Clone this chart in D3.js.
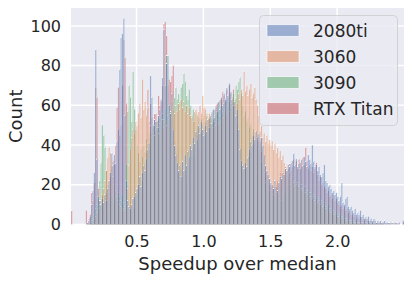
<!DOCTYPE html>
<html><head><meta charset="utf-8">
<script src="https://cdn.jsdelivr.net/npm/d3@7"></script>
<style>
body{margin:0;background:#fff}
svg{display:block}
text{font-family:"DejaVu Sans",sans-serif;fill:#262626}
</style>
</head><body><svg id="c" width="412" height="281"></svg>
<script>
const binStart = 0.01, binWidth = 0.01;
const categories = ["2080ti", "3060", "3090", "RTX Titan"];
const colors = ["#4c72b0", "#dd8452", "#55a868", "#c44e52"];
const yTicks = [0, 20, 40, 60, 80, 100];
const xTicks = [0.5, 1.0, 1.5, 2.0];

const counts2080ti = [
0,0,0,0,0,0,0,0,0,0,
0,0,1,2,4,10,17,26,88,33,
14,12,10,13,11,15,12,18,22,26,
36,30,35,31,42,48,78,94,96,104,
55,22,12,9,8,10,13,14,16,18,
20,24,19,26,30,27,33,38,41,75,
64,50,53,52,49,55,58,63,74,98,
70,81,85,60,56,66,48,40,35,31,
27,30,24,32,27,35,30,37,34,40,
38,44,41,47,43,50,46,52,48,45,
50,47,53,49,55,51,58,54,60,57,
62,58,64,60,66,63,69,65,71,67,
63,60,62,55,58,48,38,32,30,28,
31,29,34,38,42,40,45,43,47,44,
46,42,44,40,35,30,27,25,23,21,
20,18,22,19,17,21,24,23,26,25,
28,27,30,29,31,32,36,30,33,29,
31,28,33,30,34,32,29,35,33,31,
40,32,29,30,27,29,25,24,26,30,
22,21,19,20,18,16,17,15,16,14,
12,14,21,11,10,13,14,9,8,9,
7,6,8,5,6,5,7,4,5,3,
4,3,4,2,3,2,3,2,1,2,
1,2,1,1,2,1,1,0,1,1,
1,0,1,1,0,1,0,0,2];

const counts3060 = [
0,0,0,0,0,0,0,0,0,0,
0,0,0,0,0,1,2,3,4,6,
8,10,12,15,18,22,27,34,39,36,
30,24,20,17,14,12,10,9,8,7,
8,10,18,30,38,44,48,46,52,50,
56,61,54,73,58,62,55,59,52,50,
47,49,45,48,50,46,51,48,53,49,
52,50,55,53,57,54,58,56,60,57,
61,58,63,59,62,57,60,56,59,55,
54,52,57,58,55,57,60,56,65,59,
58,55,53,56,51,54,49,52,50,53,
51,55,52,57,54,58,56,60,57,61,
59,62,60,64,61,66,63,68,65,77,
67,70,65,68,71,64,66,69,63,60,
55,47,50,44,46,42,45,41,43,40,
42,38,41,36,39,34,37,33,35,31,
29,27,25,26,23,24,21,22,20,21,
19,20,18,17,19,16,17,15,16,14,
13,14,12,13,11,12,10,11,9,10,
8,9,7,8,6,7,5,6,5,4,
4,3,4,3,2,3,2,2,1,2,
1,2,1,1,0,1,1,0,1,0,
1,0,0,1,0,0,1,0,0,0,
0,1,0,0,0,0,0,0,1,0,
0,0,1,0,0,0,0,0,0];

const counts3090 = [
0,0,0,0,0,0,0,0,0,0,
0,0,0,0,1,2,3,5,8,10,
13,22,31,50,45,39,27,20,16,14,
12,14,11,15,13,16,14,12,15,11,
9,30,57,70,64,52,77,58,48,40,
36,32,38,34,40,37,43,41,46,44,
48,45,50,47,52,49,54,51,56,53,
58,85,55,60,57,62,59,64,69,63,
66,62,69,71,76,72,65,63,68,60,
55,58,52,56,50,54,49,53,51,55,
52,56,50,54,54,57,53,55,59,56,
62,58,60,56,61,57,63,59,62,60,
64,66,63,70,68,72,74,66,60,55,
57,52,54,49,51,46,48,43,45,40,
38,35,32,28,25,21,18,15,17,14,
13,15,12,14,16,13,15,12,14,16,
17,19,16,20,18,21,19,22,17,20,
19,17,20,18,16,19,15,17,14,16,
13,15,12,14,11,13,10,12,9,11,
9,8,10,7,8,6,7,5,6,5,
4,5,3,4,3,2,3,2,2,1,
2,1,1,2,1,1,0,1,1,0,
1,0,1,0,0,1,0,0,0,1,
0,0,1,0,0,0,0,1,0,0,
0,0,0,0,0,0,0,0,0];

const countsRTXTitan = [
7,0,0,0,0,0,0,0,0,0,
0,7,1,3,5,16,12,21,69,64,
18,12,10,14,11,13,16,12,20,24,
28,32,30,40,59,69,45,50,70,93,
84,61,20,10,7,9,12,8,11,15,
18,20,23,22,27,32,36,68,44,61,
54,50,56,56,52,65,60,62,70,101,
102,95,70,73,72,75,80,42,37,30,
26,22,28,24,20,27,23,30,32,35,
36,34,40,38,45,42,39,46,44,48,
45,50,47,53,49,56,52,58,55,61,
57,63,63,67,65,62,68,64,70,66,
61,68,57,59,50,44,35,30,27,31,
28,33,30,36,40,37,44,41,46,42,
43,40,37,33,29,26,24,22,20,19,
17,19,16,20,22,21,26,24,27,25,
30,26,28,31,27,29,33,30,32,28,
33,31,29,34,30,39,32,28,30,27,
29,26,28,31,25,22,24,20,21,19,
18,16,17,14,15,13,15,12,13,11,
10,9,10,8,9,7,8,6,7,5,
5,4,5,3,4,3,4,2,3,2,
3,2,2,1,2,1,2,1,1,1,
1,0,1,1,0,1,0,1,0,0,
0,1,0,0,1,0,0,0,1];

const seriesCounts = [counts2080ti, counts3060, counts3090, countsRTXTitan];

const W = 412, H = 281;
const m = {left: 71, right: 8, top: 8, bottom: 56.5};
const svg = d3.select("#c");
const nBins = counts2080ti.length;
const x = d3.scaleLinear().domain([binStart, binStart + nBins * binWidth]).range([m.left, W - m.right]);
const y = d3.scaleLinear().domain([0, 109]).range([H - m.bottom, m.top]);

svg.append("rect").attr("x", m.left).attr("y", m.top)
  .attr("width", W - m.left - m.right).attr("height", H - m.top - m.bottom)
  .attr("fill", "#eaeaf2");

const g = svg.append("g");
g.selectAll("line.h").data(yTicks).join("line")
  .attr("x1", m.left).attr("x2", W - m.right)
  .attr("y1", d => y(d)).attr("y2", d => y(d))
  .attr("stroke", "#fff").attr("stroke-width", 1.5);
g.selectAll("line.v").data(xTicks).join("line")
  .attr("y1", m.top).attr("y2", H - m.bottom)
  .attr("x1", d => x(d)).attr("x2", d => x(d))
  .attr("stroke", "#fff").attr("stroke-width", 1.5);

const bars = svg.append("g");
for (let s = categories.length - 1; s >= 0; s--) {
  const data = seriesCounts[s].map((c, i) => ({c, i})).filter(d => d.c > 0);
  bars.append("g").selectAll("rect").data(data).join("rect")
    .attr("x", d => x(binStart + d.i * binWidth))
    .attr("width", d => x(binStart + (d.i + 1) * binWidth) - x(binStart + d.i * binWidth))
    .attr("y", d => y(d.c))
    .attr("height", d => y(0) - y(d.c))
    .attr("fill", colors[s]).attr("fill-opacity", 0.5)
    .attr("stroke", "#fff").attr("stroke-opacity", 0.9).attr("stroke-width", 0.2);
}

const xAxis = svg.append("g").attr("transform", `translate(0,${H - m.bottom})`)
  .call(d3.axisBottom(x).tickValues(xTicks).tickFormat(d3.format(".1f")).tickSize(0).tickPadding(11));
const yAxis = svg.append("g").attr("transform", `translate(${m.left},0)`)
  .call(d3.axisLeft(y).tickValues(yTicks).tickSize(0).tickPadding(10));
[xAxis, yAxis].forEach(a => {
  a.select(".domain").remove();
  a.selectAll("text").attr("font-size", 16).attr("font-family", '"DejaVu Sans",sans-serif').attr("fill", "#262626");
});

svg.append("text").attr("x", (m.left + W - m.right) / 2).attr("y", 270)
  .attr("text-anchor", "middle").attr("font-size", 18).text("Speedup over median");
svg.append("text").attr("transform", `translate(22,${(m.top + H - m.bottom) / 2}) rotate(-90)`)
  .attr("text-anchor", "middle").attr("font-size", 18).text("Count");

const lg = svg.append("g");
lg.append("rect").attr("x", 259.5).attr("y", 15.5).attr("width", 138).attr("height", 110)
  .attr("rx", 4).attr("fill", "#eaeaf2").attr("fill-opacity", 0.8)
  .attr("stroke", "#cccccc").attr("stroke-opacity", 0.8).attr("stroke-width", 1);
const items = lg.selectAll("g.item").data(categories).join("g")
  .attr("transform", (d, i) => `translate(267,${30.5 + i * 26})`);
items.append("rect").attr("x", 0).attr("y", -5.75).attr("width", 32).attr("height", 11.5)
  .attr("fill", (d, i) => colors[i]).attr("fill-opacity", 0.5)
  .attr("stroke", "#fff").attr("stroke-width", 0.6);
items.append("text").attr("x", 46).attr("y", 0).attr("dy", "0.36em")
  .attr("font-size", 17).text(d => d);
</script>
</body></html>
